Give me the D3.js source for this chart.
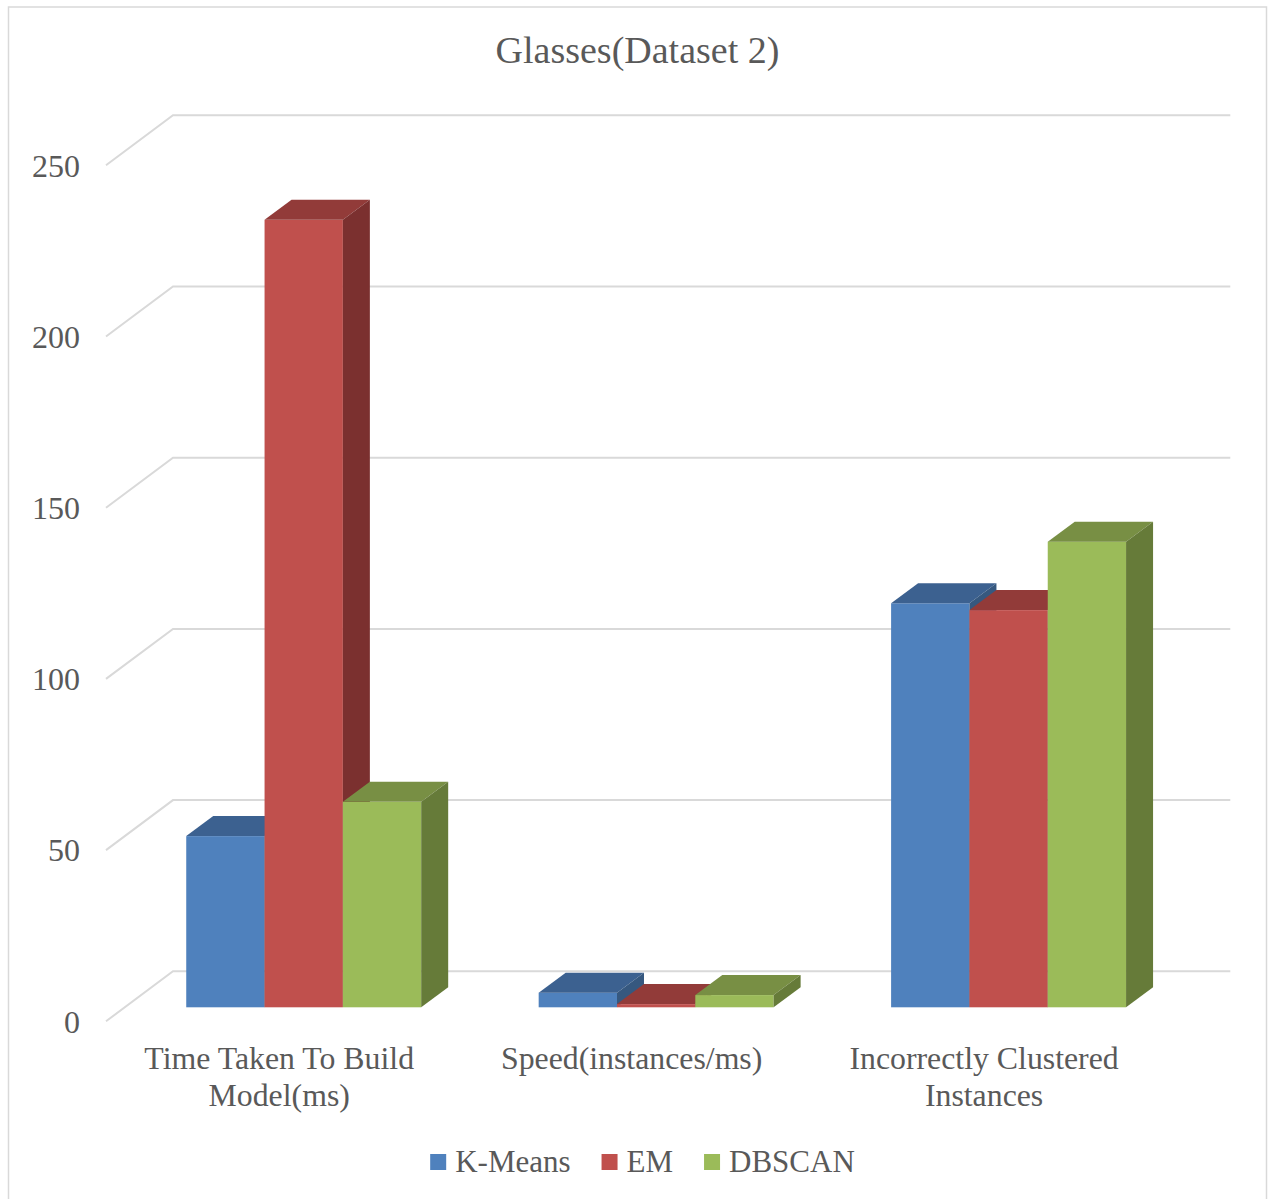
<!DOCTYPE html>
<html>
<head>
<meta charset="utf-8">
<script src="https://cdn.jsdelivr.net/npm/d3@7"></script>
<style>
  html, body { margin: 0; padding: 0; background: #fff; }
  svg { display: block; }
  text { font-family: "Liberation Serif", "Times New Roman", serif; fill: #595959; }
</style>
</head>
<body>
<svg id="chart" width="1268" height="1199"></svg>
<script>
// ---- data ----
const titleText = "Glasses(Dataset 2)";
const categories = ["Time Taken To Build Model(ms)", "Speed(instances/ms)", "Incorrectly Clustered Instances"];
const categoryLines = [["Time Taken To Build", "Model(ms)"], ["Speed(instances/ms)"], ["Incorrectly Clustered", "Instances"]];
const seriesNames = ["K-Means", "EM", "DBSCAN"];
const kmeansValues = [50, 4.28, 118];
const emValues = [230, 0.93, 116];
const dbscanValues = [60, 3.57, 136];
const yTicks = [0, 50, 100, 150, 200, 250];

// ---- styles ----
const colors = {
  "K-Means": { front: "#4F81BD", top: "#3C6190", side: "#36587F" },
  "EM":      { front: "#C0504D", top: "#923B39", side: "#7B302F" },
  "DBSCAN":  { front: "#9BBB59", top: "#788F44", side: "#667B39" }
};
const seriesValues = { "K-Means": kmeansValues, "EM": emValues, "DBSCAN": dbscanValues };

const svg = d3.select("#chart");

// layout (back wall plane)
const wallLeft = 173, wallRight = 1230.3;
const y = d3.scaleLinear().domain([0, 250]).range([971.3, 115.3]);
const depthDX = -67, depthDY = 50;      // floor depth (back -> front)
const frontDX = -45.5, frontDY = 36;     // bar front face offset from wall
const barDX = 27, barDY = -20;           // bar depth

const x0 = d3.scaleBand().domain(categories).range([wallLeft, wallRight]);
const x1 = d3.scaleBand().domain(seriesNames).range([0, x0.bandwidth()]).paddingOuter(0.75).paddingInner(0);

// border
svg.append("rect").attr("x", 8.5).attr("y", 7).attr("width", 1258).attr("height", 1210)
  .attr("fill", "none").attr("stroke", "#d9d9d9").attr("stroke-width", 1.5);

// title
svg.append("text").attr("x", 637.5).attr("y", 63).attr("text-anchor", "middle")
  .style("font-size", "38px").text(titleText);

// gridlines (back wall + left side wall)
svg.append("g").selectAll("path").data(yTicks).join("path")
  .attr("d", v => `M${wallLeft + depthDX},${y(v) + depthDY}L${wallLeft},${y(v)}L${wallRight},${y(v)}`)
  .attr("fill", "none").attr("stroke", "#d9d9d9").attr("stroke-width", 2);

// y axis labels (front plane)
const yFront = y.copy().range(y.range().map(r => r + depthDY));
const yAxis = svg.append("g").attr("transform", "translate(80,0)")
  .call(d3.axisLeft(yFront).tickValues(yTicks).tickSize(0).tickPadding(0));
yAxis.select(".domain").remove();
yAxis.selectAll("text").attr("dy", "0.34em").style("font-size", "32px")
  .attr("font-family", null).attr("fill", "#595959");

// bars
const barsG = svg.append("g");
categories.forEach((c, ci) => {
  seriesNames.forEach(s => {
    const v = seriesValues[s][ci];
    const w = x1.bandwidth();
    const x = x0(c) + x1(s) + frontDX;
    const yb = y(0) + frontDY;
    const yt = y(v) + frontDY;
    const g = barsG.append("g");
    g.append("rect").attr("x", x).attr("y", yt).attr("width", w).attr("height", yb - yt)
      .attr("fill", colors[s].front);
    g.append("path")
      .attr("d", `M${x},${yt}L${x + w},${yt}L${x + w + barDX},${yt + barDY}L${x + barDX},${yt + barDY}Z`)
      .attr("fill", colors[s].top);
    g.append("path")
      .attr("d", `M${x + w},${yt}L${x + w + barDX},${yt + barDY}L${x + w + barDX},${yb + barDY}L${x + w},${yb}Z`)
      .attr("fill", colors[s].side);
  });
});

// category labels
const catG = svg.append("g");
categories.forEach((c, ci) => {
  const cx = x0(c) + x0.bandwidth() / 2 + depthDX - 3;
  const t = catG.append("text").attr("text-anchor", "middle").style("font-size", "31.8px");
  categoryLines[ci].forEach((line, li) => {
    t.append("tspan").attr("x", cx).attr("y", 1069 + li * 37).text(line);
  });
});

// legend
const legendG = svg.append("g");
const sq = 16, gapSq = 9, gapItem = 31;
let cursor = 0;
seriesNames.forEach(s => {
  const g = legendG.append("g");
  g.append("rect").attr("x", 0).attr("y", 1154).attr("width", sq).attr("height", sq).attr("fill", colors[s].front);
  const t = g.append("text").attr("x", sq + gapSq).attr("y", 1171.5).style("font-size", "31px").text(s);
  const wTxt = t.node().getComputedTextLength();
  g.attr("transform", `translate(${cursor},0)`);
  cursor += sq + gapSq + wTxt + gapItem;
});
const totalW = cursor - gapItem;
legendG.attr("transform", `translate(${642.5 - totalW / 2},0)`);
</script>
</body>
</html>
